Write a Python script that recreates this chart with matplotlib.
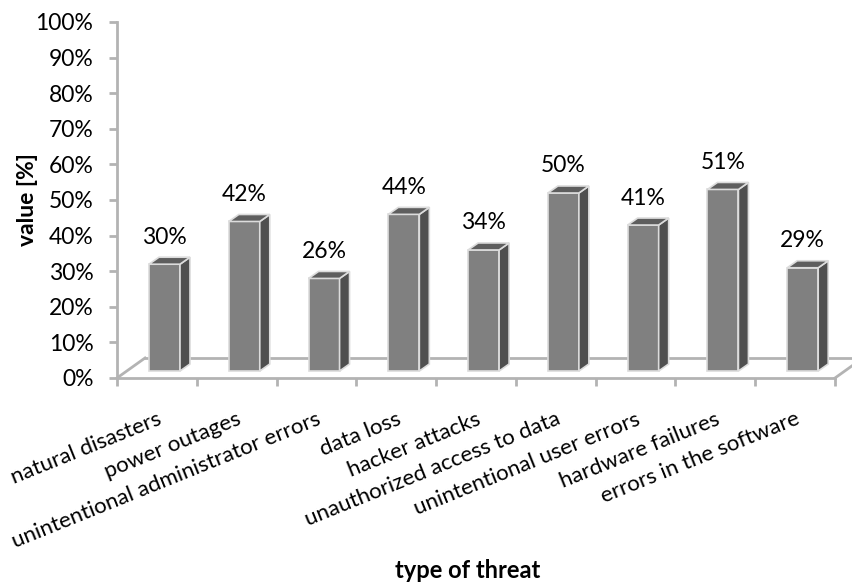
import matplotlib.pyplot as plt
from matplotlib.patches import Polygon, Rectangle
from matplotlib.transforms import blended_transform_factory

plt.rcParams['font.family'] = ['Lato', 'DejaVu Sans']

threats = ['natural disasters', 'power outages', 'unintentional administrator errors',
           'data loss', 'hacker attacks', 'unauthorized access to data',
           'unintentional user errors', 'hardware failures', 'errors in the software']
values = [30, 42, 26, 44, 34, 50, 41, 51, 29]
yticks = [0, 10, 20, 30, 40, 50, 60, 70, 80, 90, 100]

W, H = 852, 586
L, R, B, T = 117, 835, 378, 22          # plot box in pixels
fig = plt.figure(figsize=(W / 100, H / 100), dpi=100)
ax = fig.add_axes([L / W, (H - B) / H, (R - L) / W, (B - T) / H])
ax.set_xlim(0, len(threats))
ax.set_ylim(0, 100)

# pixel -> data conversion for the fake 3d depth
px_x = len(threats) / (R - L)
px_y = 100 / (B - T)

grey = '#b3b3b3'
for s in ['top', 'right']:
    ax.spines[s].set_visible(False)
for s in ['left', 'bottom']:
    ax.spines[s].set_color(grey)
    ax.spines[s].set_linewidth(2)

ax.set_yticks(yticks)
ax.set_yticklabels([f'{t}%' for t in yticks], fontsize=16.5)
ax.set_xticks(range(len(threats) + 1))
ax.set_xticklabels([])
ax.tick_params(axis='y', length=6, width=2, color=grey, pad=11)
ax.tick_params(axis='x', length=6, width=2, color=grey)

# floor of the 3d box
fdx, fdy = 28 * px_x, 20 * px_y
n = len(threats)
floor_kw = dict(color=grey, lw=2, clip_on=False, zorder=1)
ax.plot([0, fdx], [0, fdy], **floor_kw)
ax.plot([fdx, n + fdx], [fdy, fdy], **floor_kw)
ax.plot([n, n + fdx], [0, fdy], **floor_kw)

# bars: front, side and top faces
bw = 31 * px_x
bdx, bdy = 10 * px_x, 7 * px_y
base = 7 * px_y
for i, v in enumerate(values):
    x0 = i + 32 * px_x
    ec = '#dcdcdc'
    ax.add_patch(Rectangle((x0, base), bw, v, fc='#808080', ec=ec, lw=1.2, zorder=3, clip_on=False))
    ax.add_patch(Polygon([(x0 + bw, base), (x0 + bw + bdx, base + bdy),
                          (x0 + bw + bdx, base + v + bdy), (x0 + bw, base + v)],
                         closed=True, fc='#4f4f4f', ec=ec, lw=1.2, zorder=3, clip_on=False))
    ax.add_patch(Polygon([(x0, base + v), (x0 + bw, base + v),
                          (x0 + bw + bdx, base + v + bdy), (x0 + bdx, base + v + bdy)],
                         closed=True, fc='#5e5e5e', ec=ec, lw=1.2, zorder=3, clip_on=False))
    ax.text(x0 + bw / 2, base + v + 27 * px_y, f'{v}%', ha='center', va='center',
            fontsize=16.5, zorder=4)

# rotated category labels
trans = blended_transform_factory(ax.transData, ax.transAxes)
for i, name in enumerate(threats):
    ax.text(i + 0.5, -(409 - B) / (B - T), name, transform=trans, rotation=22,
            rotation_mode='anchor', ha='right', va='top', fontsize=16)

fig.text(27 / W, 1 - 200 / H, 'value [%]', rotation=90, ha='center', va='center',
         fontsize=16.5, fontweight='bold')
fig.text(468 / W, 1 - 571 / H, 'type of threat', ha='center', va='center',
         fontsize=17, fontweight='bold')

fig.savefig('out.png', dpi=100)
